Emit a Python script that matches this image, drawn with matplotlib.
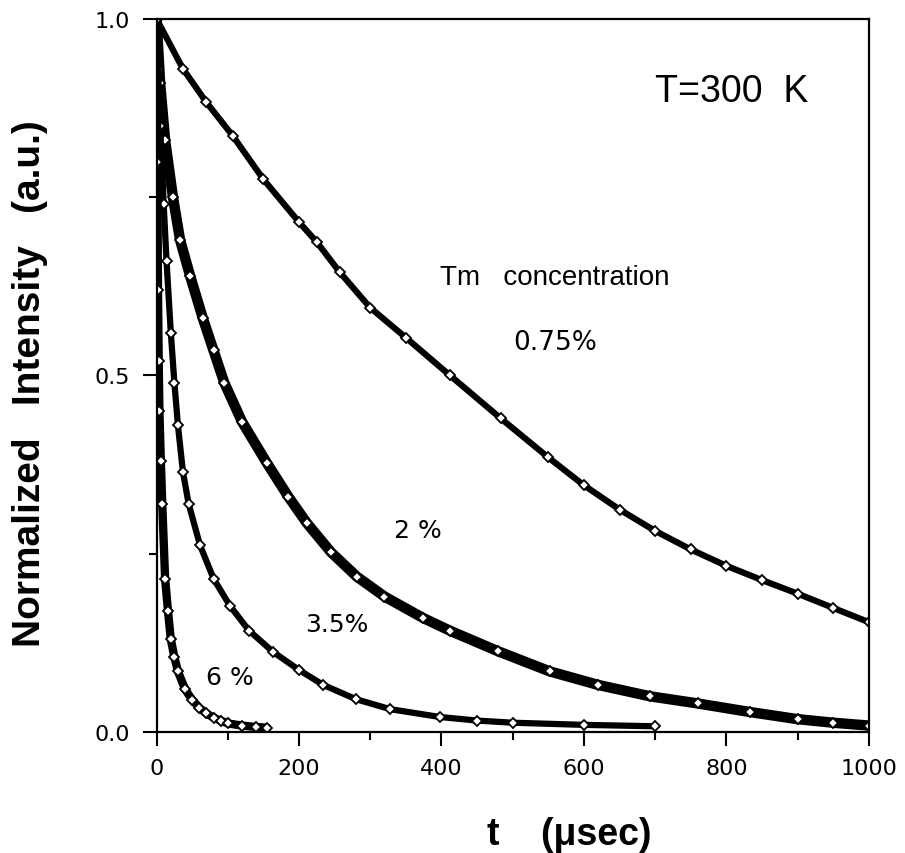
import numpy as np
import matplotlib
matplotlib.use('Agg')
import matplotlib.pyplot as plt
from matplotlib.ticker import MultipleLocator

plt.rcParams['font.family'] = ['Liberation Sans', 'DejaVu Sans']

# decay curves (t in usec, normalized intensity)
t_075 = [0, 37, 70, 107, 150, 200, 225, 257, 300, 350, 412, 483, 550, 600, 650, 700, 750, 800, 850, 900, 950, 1000]
i_075 = [1.0, 0.93, 0.883, 0.836, 0.775, 0.715, 0.687, 0.645, 0.595, 0.553, 0.500, 0.440, 0.385, 0.346, 0.312, 0.282, 0.256, 0.233, 0.213, 0.194, 0.174, 0.154]

t_2 = [0, 5, 12, 23, 33, 47, 65, 80, 95, 120, 155, 185, 211, 245, 281, 320, 374, 412, 480, 552, 620, 693, 760, 833, 900, 950, 1000]
i_2 = [1.0, 0.91, 0.83, 0.75, 0.69, 0.64, 0.58, 0.535, 0.49, 0.435, 0.377, 0.33, 0.293, 0.252, 0.218, 0.19, 0.16, 0.142, 0.113, 0.085, 0.066, 0.05, 0.04, 0.028, 0.018, 0.013, 0.009]

t_35 = [0, 2, 5, 10, 14, 20, 25, 30, 37, 45, 61, 80, 103, 130, 164, 200, 234, 280, 328, 398, 450, 500, 600, 700]
i_35 = [1.0, 0.93, 0.85, 0.74, 0.66, 0.56, 0.49, 0.43, 0.365, 0.32, 0.262, 0.215, 0.177, 0.142, 0.112, 0.087, 0.066, 0.046, 0.032, 0.021, 0.016, 0.013, 0.01, 0.008]

t_6 = [0, 1, 2, 3, 4, 6, 8, 12, 16, 20, 25, 30, 40, 50, 60, 70, 80, 90, 100, 120, 140, 155]
i_6 = [1.0, 0.80, 0.62, 0.52, 0.45, 0.38, 0.32, 0.215, 0.17, 0.13, 0.105, 0.085, 0.06, 0.045, 0.034, 0.026, 0.02, 0.016, 0.012, 0.009, 0.007, 0.006]

series = [(t_075, i_075, 4.5), (t_2, i_2, 7.5), (t_35, i_35, 4.5), (t_6, i_6, 6.0)]

fig = plt.figure(figsize=(9.05, 8.54), dpi=100)
ax = fig.add_axes([0.173, 0.1417, 0.787, 0.835])

for t, inten, lw in series:
    ax.plot(t, inten, color='black', linewidth=lw, solid_joinstyle='round',
            solid_capstyle='round', marker='D', markersize=5,
            markerfacecolor='white', markeredgecolor='black', markeredgewidth=1.3)

ax.set_xlim(0, 1000)
ax.set_ylim(0, 1.0)
ax.set_xticks([0, 200, 400, 600, 800, 1000])
ax.set_yticks([0.0, 0.5, 1.0])
ax.set_yticklabels(['0.0', '0.5', '1.0'])
ax.xaxis.set_minor_locator(MultipleLocator(100))
ax.yaxis.set_minor_locator(MultipleLocator(0.25))
ax.tick_params(axis='both', which='major', direction='out', length=10, width=1.5,
               labelsize=16, pad=9)
ax.tick_params(axis='both', which='minor', direction='out', length=6, width=1.5)
for lbl in ax.get_xticklabels() + ax.get_yticklabels():
    lbl.set_family(['DejaVu Sans'])
for s in ax.spines.values():
    s.set_linewidth(1.6)

ax.set_xlabel('t    (\u03bcsec)', fontsize=27, fontweight='bold')
ax.set_ylabel('Normalized   Intensity   (a.u.)', fontsize=28, fontweight='bold')
ax.xaxis.set_label_coords(0.58, -0.118)
ax.yaxis.set_label_coords(-0.153, 0.49)

ax.text(808, 0.899, 'T=300  K', fontsize=27, ha='center', va='center')
ax.text(559, 0.638, 'Tm   concentration', fontsize=20, ha='center', va='center')
ax.text(559, 0.547, '0.75%', fontsize=19, ha='center', va='center', family=['DejaVu Sans'])
ax.text(367, 0.283, '2 %', fontsize=18, ha='center', va='center', family=['DejaVu Sans'])
ax.text(253, 0.151, '3.5%', fontsize=18, ha='center', va='center', family=['DejaVu Sans'])
ax.text(103, 0.077, '6 %', fontsize=18, ha='center', va='center', family=['DejaVu Sans'])

fig.savefig('out.png', dpi=100)
